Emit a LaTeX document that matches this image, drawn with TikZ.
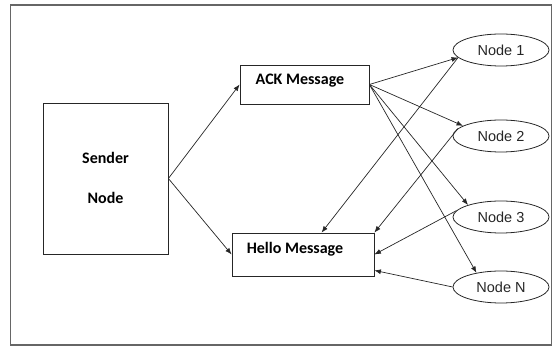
\documentclass[tikz,border=0pt]{standalone}
\usepackage{fontspec}
\setmainfont{Carlito}
\newfontfamily\nodefont{Liberation Sans}
\usetikzlibrary{arrows.meta,shapes.geometric,calc}
\begin{document}
\begin{tikzpicture}[x=1pt,y=-1pt,
  box/.style={draw=black!85,line width=0.8pt,inner sep=0pt},
  ell/.style={ellipse,draw=black!85,line width=0.8pt,minimum width=96pt,minimum height=32pt,inner sep=0pt,text=black!85,font=\nodefont\fontsize{14.5}{16}\selectfont},
  lbl/.style={inner sep=0pt,font=\bfseries\fontsize{16}{18}\selectfont},
  arr/.style={-{Latex[length=6.5pt,width=5pt]},line width=0.7pt,draw=black!85}]
\useasboundingbox (0,0) rectangle (555,347);
\draw[black!60,line width=1.2pt] (10.5,5) rectangle (551.5,345);
% boxes
\node[box,minimum width=125pt,minimum height=151pt] (snd) at (105.5,178.5) {};
\node[box,minimum width=129pt,minimum height=39pt] (ack) at (304.5,84.5) {};
\node[box,minimum width=142pt,minimum height=43pt] (hel) at (303,254.5) {};
% box texts
\node[lbl] (t1) at (105.5,158) {Sender};
\node[lbl] (t2) at (105.5,198) {Node};
\node[lbl] (t3) at (300,81) {ACK Message};
\node[lbl] (t4) at (295,249) {Hello Message};
% ellipses
\node[ell] (n1) at (501,50) {Node 1};
\node[ell] (n2) at (501,136) {Node 2};
\node[ell] (n3) at (501,217) {Node 3};
\node[ell] (nN) at (501,287) {Node N};
% helper coordinates
\coordinate (h1) at ($(hel.north west)!0.63!(hel.north east)$);
\coordinate (h4) at ($(hel.south east)+(0,-6)$);
% connectors
\draw[arr] (snd.east) -- (ack.west);
\draw[arr] (snd.east) -- (hel.west);
\draw[arr] (ack.east) -- (n1.190);
\draw[arr] (ack.east) -- (n2.165);
\draw[arr] (ack.east) -- (n3.160);
\draw[arr] (ack.east) -- (nN.150);
\draw[arr] (n1.190) -- (h1);
\draw[arr] (n2.170) -- (hel.north east);
\draw[arr] (n3.172) -- (hel.east);
\draw[arr] (nN.180) -- (h4);
\end{tikzpicture}
\end{document}
